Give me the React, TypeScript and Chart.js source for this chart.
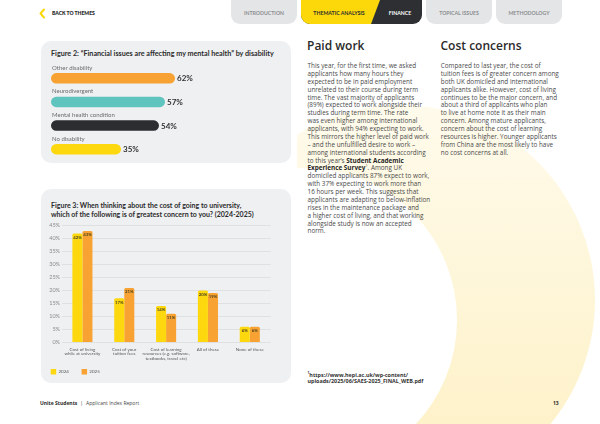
import React, { useEffect, useRef } from "react";
import { Chart, registerables } from "chart.js";

Chart.register(...registerables);

// ---------- Figure 2 data ----------
const fig2Categories = ["Other disability", "Neurodivergent", "Mental health condition", "No disability"];
const fig2Values = [62, 57, 54, 35];
const fig2Colors = ["#f7a232", "#5ec4bd", "#2b2d31", "#fdd80f"];

// ---------- Figure 3 data ----------
const fig3Categories = [
  ["Cost of living", "while at university"],
  ["Cost of your", "tuition fees"],
  ["Cost of learning", "resources (e.g. software,", "textbooks, travel etc)"],
  ["All of these"],
  ["None of these"],
];
const fig3SeriesNames = ["2024", "2025"];
const fig3Values2024 = [42, 17, 14, 20, 6];
const fig3Values2025 = [43, 21, 11, 19, 6];
const fig3YMax = 45;
const fig3YStep = 5;

// ---------- page text ----------
const navTabs = ["INTRODUCTION", "THEMATIC ANALYSIS", "FINANCE", "TOPICAL ISSUES", "METHODOLOGY"];
const paidWorkLines = [
  "This year, for the first time, we asked",
  "applicants how many hours they",
  "expected to be in paid employment",
  "unrelated to their course during term",
  "time. The vast majority of applicants",
  "(89%) expected to work alongside their",
  "studies during term time. The rate",
  "was even higher among international",
  "applicants, with 94% expecting to work.",
  "This mirrors the higher level of paid work",
  "– and the unfulfilled desire to work –",
  "among international students according",
  "to this year’s **Student Academic**",
  "**Experience Survey**^1. Among UK",
  "domiciled applicants 87% expect to work,",
  "with 37% expecting to work more than",
  "16 hours per week. This suggests that",
  "applicants are adapting to below-inflation",
  "rises in the maintenance package and",
  "a higher cost of living, and that working",
  "alongside study is now an accepted",
  "norm.",
];
const costLines = [
  "Compared to last year, the cost of",
  "tuition fees is of greater concern among",
  "both UK domiciled and international",
  "applicants alike. However, cost of living",
  "continues to be the major concern, and",
  "about a third of applicants who plan",
  "to live at home note it as their main",
  "concern. Among mature applicants,",
  "concern about the cost of learning",
  "resources is higher. Younger applicants",
  "from China are the most likely to have",
  "no cost concerns at all.",
];

function richLine(s: string, key: number) {
  const parts = s.split("**");
  return (
    <div key={key} style={{ whiteSpace: "nowrap" }}>
      {parts.map((p, i) => {
        const segs = p.split("^1");
        const content: any[] = [];
        segs.forEach((seg, j) => {
          if (j > 0)
            content.push(
              <sup key={"s" + j} style={{ fontSize: "0.6em", lineHeight: 0 }}>
                1
              </sup>
            );
          content.push(seg);
        });
        return i % 2 === 1 ? (
          <b key={i} style={{ fontWeight: 700, color: "#262626" }}>
            {content}
          </b>
        ) : (
          <span key={i}>{content}</span>
        );
      })}
    </div>
  );
}

function Fig2Chart() {
  const ref = useRef<HTMLCanvasElement>(null);
  useEffect(() => {
    const labelPlugin = {
      id: "fig2labels",
      afterDatasetsDraw(chart: any) {
        const ctx = chart.ctx;
        const meta = chart.getDatasetMeta(0);
        meta.data.forEach((bar: any, i: number) => {
          const { x, y, base, height } = bar.getProps(["x", "y", "base", "height"], true);
          ctx.save();
          ctx.textBaseline = "middle";
          ctx.textAlign = "left";
          ctx.font = "400 6px Lato";
          ctx.fillStyle = "#6a6b6e";
          ctx.fillText(String(chart.data.labels[i]), base + 1, y - height / 2 - 5.3);
          ctx.font = "700 8px Lato";
          ctx.fillStyle = "#333333";
          ctx.fillText(chart.data.datasets[0].data[i] + "%", x + 2, y + 0.5);
          ctx.restore();
        });
      },
    };
    const chart = new Chart(ref.current as HTMLCanvasElement, {
      type: "bar",
      data: {
        labels: fig2Categories,
        datasets: [
          {
            data: fig2Values,
            backgroundColor: fig2Colors,
            borderRadius: 20,
            borderSkipped: false,
            barPercentage: 0.44,
            categoryPercentage: 1,
          },
        ],
      },
      options: {
        indexAxis: "y",
        responsive: false,
        animation: false,
        layout: { padding: { left: 10, right: 40, top: 6.5, bottom: 2 } },
        scales: {
          x: { display: false, min: 0, max: 100 },
          y: { display: false },
        },
        plugins: { legend: { display: false }, tooltip: { enabled: false } },
      } as any,
      plugins: [labelPlugin],
    });
    return () => chart.destroy();
  }, []);
  return (
    <canvas
      ref={ref}
      width={250}
      height={103}
      style={{ position: "absolute", left: 41, top: 60, width: 250, height: 103 }}
    />
  );
}

function Fig3Chart() {
  const ref = useRef<HTMLCanvasElement>(null);
  useEffect(() => {
    const valuePlugin = {
      id: "fig3values",
      afterDatasetsDraw(chart: any) {
        const ctx = chart.ctx;
        chart.data.datasets.forEach((ds: any, di: number) => {
          const meta = chart.getDatasetMeta(di);
          meta.data.forEach((bar: any, i: number) => {
            const { x, y } = bar.getProps(["x", "y"], true);
            ctx.save();
            ctx.font = "700 4.3px Lato";
            ctx.fillStyle = "#4d4420";
            ctx.textAlign = "center";
            ctx.textBaseline = "middle";
            ctx.fillText(ds.data[i] + "%", x, y + 4);
            ctx.restore();
          });
        });
      },
    };
    const chart = new Chart(ref.current as HTMLCanvasElement, {
      type: "bar",
      data: {
        labels: fig3Categories,
        datasets: [
          {
            label: fig3SeriesNames[0],
            data: fig3Values2024,
            backgroundColor: "#fdd80f",
            borderWidth: 0,
            borderRadius: { topLeft: 1.5, topRight: 1.5, bottomLeft: 0, bottomRight: 0 },
            borderSkipped: false,
            barPercentage: 1,
            categoryPercentage: 0.48,
          },
          {
            label: fig3SeriesNames[1],
            data: fig3Values2025,
            backgroundColor: "#f7a232",
            borderWidth: 0,
            borderRadius: { topLeft: 1.5, topRight: 1.5, bottomLeft: 0, bottomRight: 0 },
            borderSkipped: false,
            barPercentage: 1,
            categoryPercentage: 0.48,
          },
        ],
      },
      options: {
        responsive: false,
        animation: false,
        layout: { padding: { left: 2, right: 20.3, top: 10.7, bottom: 0.5 } },
        scales: {
          x: {
            grid: { display: false, drawTicks: false },
            border: { display: false },
            ticks: {
              font: { family: "Lato", size: 4.5, lineHeight: 1.05 },
              color: "#55575a",
              maxRotation: 0,
              minRotation: 0,
              autoSkip: false,
              padding: 4.5,
            },
            afterFit: (s: any) => {
              s.height = 14;
              // let the multi-line category labels run below the axis box
              s._computeLabelArea = () => undefined;
            },
          },
          y: {
            min: 0,
            max: fig3YMax,
            ticks: {
              stepSize: fig3YStep,
              callback: (v: any) => v + "%",
              font: { family: "Lato", size: 5.5 },
              color: "#8a8b8e",
              padding: 1.5,
            },
            grid: { color: "#d7d8db", lineWidth: 0.7, drawTicks: false },
            border: { display: false },
            afterFit: (s: any) => {
              s.width = 23.5;
            },
          },
        },
        plugins: {
          legend: {
            position: "bottom",
            align: "start",
            labels: {
              boxWidth: 5.5,
              boxHeight: 5.5,
              padding: 12.7,
              font: { family: "Lato", size: 4.5 },
              color: "#55575a",
            },
          },
          tooltip: { enabled: false },
        },
      } as any,
      plugins: [valuePlugin],
    });
    return () => chart.destroy();
  }, []);
  return (
    <canvas
      ref={ref}
      width={255}
      height={170}
      style={{ position: "absolute", left: 36, top: 215, width: 255, height: 170 }}
    />
  );
}

const tabBase: React.CSSProperties = {
  position: "absolute",
  top: 0,
  height: 24,
  borderRadius: "0 0 9px 9px",
  fontFamily: "Lato",
  fontWeight: 700,
  fontSize: 5.2,
  lineHeight: "27px",
  textAlign: "center",
  letterSpacing: 0,
};

export default function App() {
  return (
    <div
      style={{
        position: "fixed",
        left: 0,
        top: 0,
        width: 600,
        height: 424,
        overflow: "hidden",
        background: "#ffffff",
        fontFamily: "'Open Sans', sans-serif",
        color: "#454545",
      }}
    >
      <svg width={600} height={424} style={{ position: "absolute", left: 0, top: 0 }}>
        <defs>
          <linearGradient id="sw" x1="0" y1="0" x2="0" y2="1">
            <stop offset="0" stopColor="#fffbec" />
            <stop offset="1" stopColor="#fdf0c2" />
          </linearGradient>
          <clipPath id="rightcol">
            <rect x={297} y={0} width={303} height={424} />
          </clipPath>
        </defs>
        <g clipPath="url(#rightcol)">
          <circle cx={400} cy={300} r={195} fill="url(#sw)" />
          <circle cx={305} cy={320} r={152} fill="#ffffff" />
        </g>
      </svg>

      {/* header */}
      <svg width={20} height={24} style={{ position: "absolute", left: 36, top: 1 }}>
        <polyline points="8,8.5 4.5,12.5 8,16.5" fill="none" stroke="#fcd80b" strokeWidth={2} strokeLinecap="round" strokeLinejoin="round" />
      </svg>
      <div
        style={{
          position: "absolute",
          left: 52,
          top: 10,
          fontFamily: "Lato",
          fontWeight: 800,
          fontSize: 5,
          lineHeight: "7px",
          color: "#2b2b2b",
          whiteSpace: "nowrap",
        }}
      >
        BACK TO THEMES
      </div>
      <div style={{ ...tabBase, left: 231, width: 66, background: "#e4e5e7", color: "#8c8e91" }}>{navTabs[0]}</div>
      <div style={{ ...tabBase, left: 301, width: 121, background: "#2d2f33" }} />
      <div
        style={{
          ...tabBase,
          left: 301,
          width: 79,
          background: "#fcd80b",
          borderRadius: "0 0 0 9px",
          clipPath: "polygon(0 0, 100% 0, calc(100% - 9px) 100%, 0 100%)",
        }}
      />
      <div style={{ ...tabBase, left: 301, width: 76, background: "transparent", color: "#2b2b2b" }}>{navTabs[1]}</div>
      <div style={{ ...tabBase, left: 378, width: 44, background: "transparent", color: "#ffffff" }}>{navTabs[2]}</div>
      <div style={{ ...tabBase, left: 426, width: 66, background: "#e4e5e7", color: "#8c8e91" }}>{navTabs[3]}</div>
      <div style={{ ...tabBase, left: 496, width: 66, background: "#e4e5e7", color: "#8c8e91" }}>{navTabs[4]}</div>

      {/* figure 2 */}
      <div style={{ position: "absolute", left: 41, top: 41, width: 250, height: 122, borderRadius: 10, background: "#eff0f2" }} />
      <div
        style={{
          position: "absolute",
          left: 51,
          top: 49,
          fontFamily: "Lato",
          fontWeight: 700,
          fontSize: 7.2,
          lineHeight: "10px",
          color: "#2b2b2b",
          whiteSpace: "nowrap",
        }}
      >
        Figure 2: “Financial issues are affecting my mental health” by disability
      </div>
      <Fig2Chart />

      {/* figure 3 */}
      <div style={{ position: "absolute", left: 41, top: 189, width: 250, height: 194, borderRadius: 10, background: "#eff0f2" }} />
      <div
        style={{
          position: "absolute",
          left: 51,
          top: 200.5,
          fontFamily: "Lato",
          fontWeight: 700,
          fontSize: 7,
          lineHeight: "9px",
          color: "#2b2b2b",
          whiteSpace: "nowrap",
        }}
      >
        <div>Figure 3: When thinking about the cost of going to university,</div>
        <div>which of the following is of greatest concern to you? (2024-2025)</div>
      </div>
      <Fig3Chart />

      {/* right columns */}
      <div
        style={{
          position: "absolute",
          left: 307,
          top: 38,
          fontWeight: 600,
          fontSize: 12,
          lineHeight: "16px",
          color: "#2a2a2a",
          whiteSpace: "nowrap",
        }}
      >
        Paid work
      </div>
      <div
        style={{
          position: "absolute",
          left: 440.5,
          top: 38,
          fontWeight: 600,
          fontSize: 12,
          lineHeight: "16px",
          color: "#2a2a2a",
          whiteSpace: "nowrap",
        }}
      >
        Cost concerns
      </div>
      <div style={{ position: "absolute", left: 307.5, top: 62.1, fontSize: 6.35, lineHeight: "7.87px", color: "#4a4a4a" }}>
        {paidWorkLines.map((l, i) => richLine(l, i))}
      </div>
      <div style={{ position: "absolute", left: 440.8, top: 62.1, fontSize: 6.35, lineHeight: "7.87px", color: "#4a4a4a" }}>
        {costLines.map((l, i) => richLine(l, i))}
      </div>

      {/* footnote */}
      <div
        style={{
          position: "absolute",
          left: 307.5,
          top: 373,
          fontWeight: 700,
          fontSize: 5.4,
          lineHeight: "5.7px",
          color: "#333",
          whiteSpace: "nowrap",
        }}
      >
        <div>
          <sup style={{ fontSize: "0.6em", lineHeight: 0 }}>1</sup>https://www.hepi.ac.uk/wp-content/
        </div>
        <div>uploads/2025/06/SAES-2025_FINAL_WEB.pdf</div>
      </div>

      {/* footer */}
      <div
        style={{
          position: "absolute",
          left: 40,
          top: 399.5,
          fontSize: 5,
          lineHeight: "6.5px",
          color: "#444",
          whiteSpace: "nowrap",
        }}
      >
        <b style={{ fontWeight: 700, color: "#2a2a2a" }}>Unite Students</b>
        <span style={{ margin: "0 3px" }}>|</span>Applicant Index Report
      </div>
      <div
        style={{
          position: "absolute",
          left: 553,
          top: 399.5,
          fontSize: 5,
          lineHeight: "6.5px",
          fontWeight: 700,
          color: "#2a2a2a",
        }}
      >
        13
      </div>
    </div>
  );
}
